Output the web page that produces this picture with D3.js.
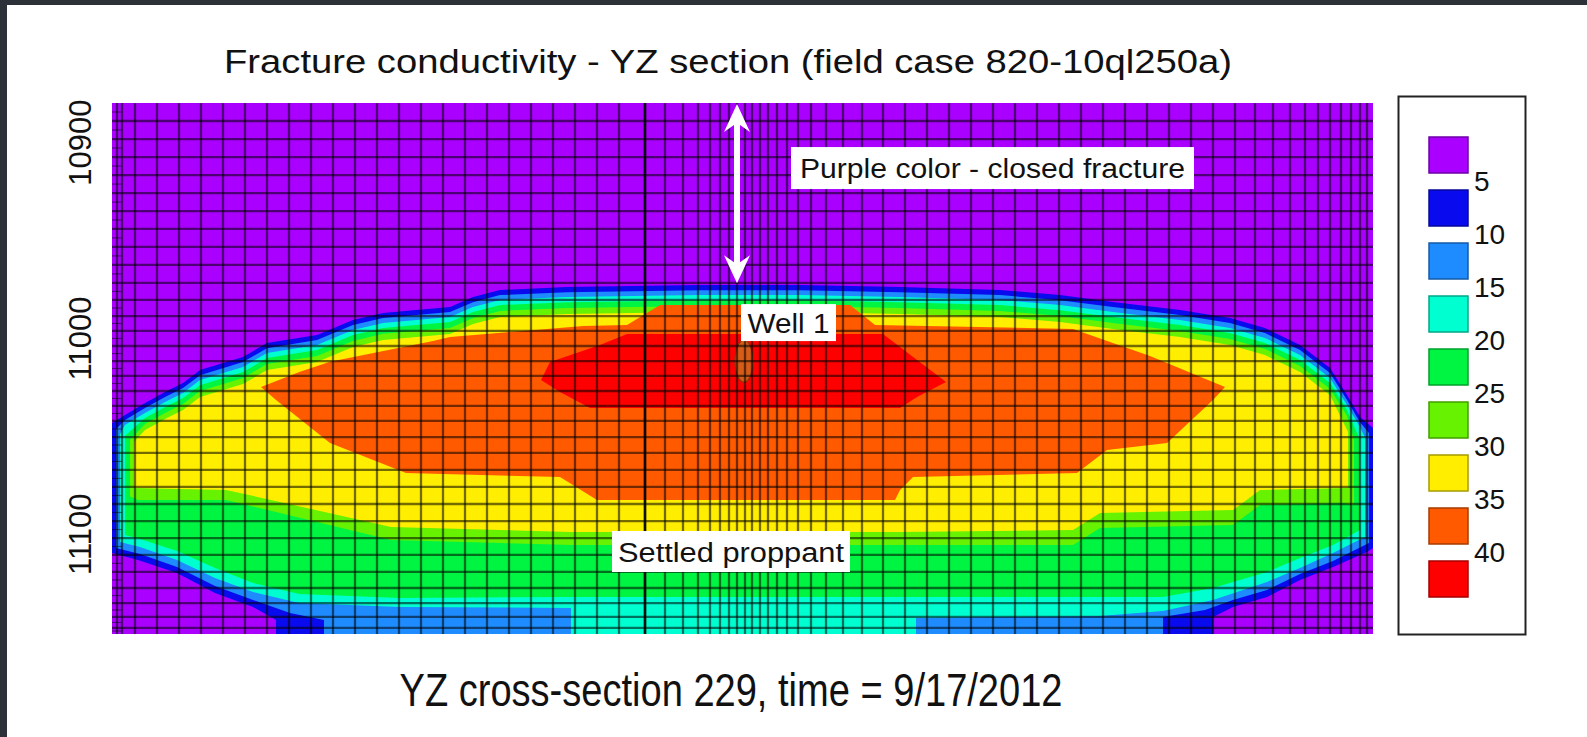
<!DOCTYPE html>
<html>
<head>
<meta charset="utf-8">
<script src="https://cdn.jsdelivr.net/npm/d3@7/dist/d3.min.js"></script>
<style>
  body { margin: 0; background: #fff; }
  svg { display: block; }
  text { font-family: "Liberation Sans", Arial, sans-serif; fill: #111; }
</style>
</head>
<body>
<svg id="chart" width="1587" height="737"></svg>
<script>
// conductivity class limits and colours, low to high
var levels = [5, 10, 15, 20, 25, 30, 35, 40];
var classColors = ["#aa00ff", "#0a0aee", "#1e8cff", "#00ffd0", "#00f542", "#66f200", "#ffee00", "#ff5a00", "#ff0000"];
var depthTicks = [10900, 11000, 11100];

// contour outlines [lateral ft, depth ft]: area where conductivity >= level
var contour5 = [[0,11043.4],[13,11039.3],[33,11033.2],[53,11027.6],[71,11023.0],[88,11016.4],[131,11009.7],[155,11002.6],[205,10998.5],[241,10990.8],[271,10987.2],[338,10984.2],[361,10979.1],[388,10975.5],[455,10974.0],[588,10973.0],[688,10973.0],[788,10974.0],[888,10975.5],[948,10978.1],[1001,10981.6],[1068,10985.7],[1118,10989.8],[1153,10994.9],[1188,11003.6],[1218,11015.3],[1235,11029.1],[1248,11040.4],[1261,11046.0],
  [1261,11107.3],[1255,11109.3],[1221,11117.0],[1188,11123.6],[1155,11132.3],[1121,11137.4],[1101,11142.5],[1101,11151.2],[164,11151.2],[164,11144.0],[141,11137.4],[103,11130.3],[65,11120.0],[26,11113.4],[0,11109.8]];
var contour10 = [[4,11046.5],[13,11041.9],[33,11035.8],[53,11030.2],[71,11025.6],[88,11019.0],[131,11012.3],[155,11005.2],[205,11001.1],[241,10993.4],[271,10989.8],[338,10986.8],[361,10981.7],[388,10978.1],[455,10976.6],[588,10975.6],[688,10975.6],[788,10976.6],[888,10978.1],[948,10980.7],[1001,10984.2],[1068,10988.3],[1118,10992.4],[1153,10997.5],[1188,11006.2],[1218,11017.9],[1235,11031.7],[1248,11043.0],[1257,11048.5],
  [1257,11104.7],[1221,11113.9],[1188,11120.5],[1155,11128.7],[1121,11133.8],[1093,11138.9],[1051,11142.5],[1051,11151.2],[212,11151.2],[212,11144.0],[178,11140.5],[141,11133.8],[103,11126.7],[65,11117.0],[28,11110.3],[4,11107.3]];
var contour15 = [[8,11049.0],[13,11044.4],[33,11038.3],[53,11032.7],[71,11028.1],[88,11021.5],[131,11014.8],[155,11007.7],[205,11003.6],[241,10995.9],[271,10992.3],[338,10989.3],[361,10984.2],[388,10980.6],[455,10979.1],[588,10978.1],[688,10978.1],[788,10979.1],[888,10980.6],[948,10983.2],[1001,10986.7],[1068,10990.8],[1118,10994.9],[1153,11000.0],[1188,11008.7],[1218,11020.4],[1235,11034.2],[1248,11045.5],[1253,11051.0],
  [1253,11101.6],[1221,11109.8],[1188,11117.5],[1155,11124.6],[1101,11133.8],[1051,11139.4],[988,11142.0],[804,11143.0],[804,11151.2],[459,11151.2],[459,11137.9],[288,11137.4],[187,11135.4],[141,11129.7],[103,11122.6],[65,11113.4],[28,11106.8],[8,11104.2]];
var contour20 = [[13,11050.0],[33,11040.9],[53,11035.3],[71,11030.7],[88,11024.1],[131,11017.4],[155,11010.3],[205,11006.2],[241,10998.5],[271,10994.9],[338,10991.9],[361,10986.8],[388,10983.2],[455,10981.7],[588,10980.7],[688,10980.7],[788,10981.7],[888,10983.2],[948,10985.8],[1001,10989.3],[1068,10993.4],[1118,10997.5],[1153,11002.6],[1188,11011.3],[1218,11023.0],[1235,11036.8],[1248,11052.0],
  [1248,11098.1],[1221,11105.7],[1188,11112.4],[1155,11119.5],[1101,11127.7],[1051,11132.3],[459,11132.3],[288,11132.8],[187,11130.8],[141,11125.1],[103,11117.5],[65,11108.8],[28,11102.7],[13,11100.6]];
var contour25 = [[18,11052.0],[33,11043.9],[53,11038.3],[71,11033.7],[88,11027.1],[131,11020.4],[155,11013.3],[205,11009.2],[241,11001.5],[271,10997.9],[338,10994.9],[361,10989.8],[388,10986.2],[455,10984.7],[588,10983.7],[688,10983.7],[788,10984.7],[888,10986.2],[948,10988.8],[1001,10992.3],[1068,10996.4],[1118,11000.5],[1153,11005.6],[1188,11014.3],[1218,11026.0],[1235,11039.8],[1242,11052.0],
  [1242,11085.3],[1231,11084.3],[1148,11085.3],[1121,11095.5],[988,11097.0],[961,11105.7],[788,11105.7],[459,11105.7],[279,11103.2],[114,11082.7],[26,11082.7],[18,11081.0]];
var contour30 = [[22,11053.0],[33,11047.0],[53,11041.4],[71,11036.8],[88,11030.2],[131,11023.5],[155,11016.4],[205,11012.3],[241,11004.6],[271,11001.0],[338,10998.0],[361,10992.9],[388,10989.3],[455,10987.8],[588,10986.8],[688,10986.8],[788,10987.8],[888,10989.3],[948,10991.9],[1001,10995.4],[1068,10999.5],[1118,11003.6],[1153,11008.7],[1188,11017.4],[1218,11029.1],[1236,11048.0],
  [1236,11076.6],[1148,11077.6],[1121,11087.9],[988,11089.4],[961,11098.1],[788,11099.1],[459,11099.1],[279,11096.5],[114,11077.6],[22,11076.6]];
var contour35 = [[149,11025.0],[188,11017.3],[218,11012.2],[321,11001.5],[338,10999.5],[471,10993.9],[515,10993.4],[548,10983.2],[738,10983.2],[763,10993.4],[961,10995.4],[1038,11009.2],[1113,11025.0],[1101,11031.7],[1055,11053.6],[995,11057.2],[965,11069.0],[801,11071.0],[788,11077.6],[783,11082.7],[485,11082.7],[448,11071.0],[294,11069.0],[218,11053.6],[164,11031.7]];
var contour40 = [[429,11021.5],[438,11012.3],[488,11003.6],[515,10998.0],[771,10998.0],[805,11011.3],[834,11022.5],[805,11030.1],[788,11035.8],[478,11035.8],[448,11027.6]];

var wellPos = [632, 11011.8];

// simulation mesh (lateral ft / depth ft)
var meshCols = [5,10,23,45,67,89,111,133,155,177,199,221,243,265,287,309,331,353,375,397,419,441,463,485,507,533,553,571,586,598,608,617,625,633,640,648,656,665,675,686,699,714,731,750,771,793,815,837,859,881,903,925,947,969,991,1013,1035,1057,1079,1101,1123,1143,1161,1178,1193,1206,1218,1229,1239,1248,1255];
var meshRows = [10889.2,10898.4,10907.6,10916.8,10926.0,10935.2,10944.3,10953.5,10962.7,10971.9,10980.6,10988.8,10996.4,11004.1,11011.8,11019.4,11027.1,11034.7,11042.4,11050.6,11058.7,11067.4,11076.1,11084.8,11093.5,11102.2,11110.8,11119.5,11127.7,11135.4,11142.5,11148.1];
var heavyCol = 533;

(function () {
    var W = 1587, H = 737;
    var plot = {left: 112, right: 1373, top: 103, bottom: 634};

    var x = d3.scaleLinear().domain([0, 1261]).range([plot.left, plot.right]);
    var y = d3.scaleLinear().domain([10880, 11151.2]).range([plot.top, plot.bottom]);
    var color = d3.scaleThreshold().domain(levels).range(classColors);

    var svg = d3.select("#chart");

    svg.append("rect").attr("width", W).attr("height", H).attr("fill", "#fff");
    svg.append("rect").attr("width", W).attr("height", 5).attr("fill", "#2c3238");
    svg.append("rect").attr("width", 7).attr("height", H).attr("fill", "#2c3238");

    svg.append("defs").append("clipPath").attr("id", "plotclip")
        .append("rect")
        .attr("x", plot.left).attr("y", plot.top)
        .attr("width", plot.right - plot.left).attr("height", plot.bottom - plot.top);

    var g = svg.append("g").attr("clip-path", "url(#plotclip)");

    // closed fracture background
    g.append("rect")
        .attr("x", plot.left).attr("y", plot.top)
        .attr("width", plot.right - plot.left).attr("height", plot.bottom - plot.top)
        .attr("fill", color(0));

    var contours = [contour5, contour10, contour15, contour20, contour25, contour30, contour35, contour40];
    var line = d3.line().x(function (d) { return x(d[0]); }).y(function (d) { return y(d[1]); });

    g.selectAll("path.band")
        .data(contours)
        .enter().append("path")
        .attr("class", "band")
        .attr("d", function (d) { return line(d) + "Z"; })
        .attr("fill", function (d, i) { return color(levels[i]); });

    g.append("ellipse")
        .attr("cx", x(wellPos[0])).attr("cy", y(wellPos[1]))
        .attr("rx", 9).attr("ry", 21)
        .attr("fill", "#d65c18").attr("stroke", "#8a3a0a").attr("stroke-width", 1.2);

    // mesh
    var mesh = g.append("g")
        .attr("stroke", "#000").attr("stroke-opacity", 0.55).attr("stroke-width", 2.3);

    mesh.selectAll(".mcol")
        .data(meshCols)
        .enter().append("line")
        .attr("x1", function (d) { return x(d); }).attr("x2", function (d) { return x(d); })
        .attr("y1", plot.top).attr("y2", plot.bottom);

    mesh.selectAll(".mrow")
        .data(meshRows)
        .enter().append("line")
        .attr("x1", plot.left).attr("x2", plot.right)
        .attr("y1", function (d) { return y(d); }).attr("y2", function (d) { return y(d); });

    // finer rows in the first mesh column
    var edgeRows = d3.pairs([10880].concat(meshRows, [11151.2])).map(function (p) { return (p[0] + p[1]) / 2; });
    g.selectAll(".erow")
        .data(edgeRows)
        .enter().append("line")
        .attr("x1", plot.left).attr("x2", x(10))
        .attr("y1", function (d) { return y(d); }).attr("y2", function (d) { return y(d); })
        .attr("stroke", "#000").attr("stroke-opacity", 0.45).attr("stroke-width", 1.2);

    g.append("line")
        .attr("x1", x(heavyCol)).attr("x2", x(heavyCol))
        .attr("y1", plot.top).attr("y2", plot.bottom)
        .attr("stroke", "#000").attr("stroke-opacity", 0.85).attr("stroke-width", 2.6);

    // double arrow
    var ax = x(625), at = y(10880.5), ab = y(10972);
    svg.append("path")
        .attr("d", "M" + ax + "," + at +
            "L" + (ax + 13) + "," + (at + 28) + "L" + (ax + 3) + "," + (at + 21) +
            "L" + (ax + 3) + "," + (ab - 21) + "L" + (ax + 13) + "," + (ab - 28) +
            "L" + ax + "," + ab +
            "L" + (ax - 13) + "," + (ab - 28) + "L" + (ax - 3) + "," + (ab - 21) +
            "L" + (ax - 3) + "," + (at + 21) + "L" + (ax - 13) + "," + (at + 28) + "Z")
        .attr("fill", "#fff");

    // labels inside plot
    var notes = [
        {text: "Purple color - closed fracture", lat: 679, depth: 10902.5, w: 403, h: 42, len: 385},
        {text: "Well 1", lat: 629, depth: 10982.7, w: 95, h: 37, len: 82},
        {text: "Settled proppant", lat: 500, depth: 11098.6, w: 238, h: 41, len: 226}
    ];
    var ng = svg.selectAll(".note").data(notes).enter().append("g")
        .attr("transform", function (d) { return "translate(" + x(d.lat) + "," + y(d.depth) + ")"; });
    ng.append("rect")
        .attr("width", function (d) { return d.w; }).attr("height", function (d) { return d.h; })
        .attr("fill", "#fff");
    ng.append("text")
        .attr("x", function (d) { return d.w / 2; })
        .attr("y", function (d) { return d.h / 2 + 10; })
        .attr("text-anchor", "middle")
        .attr("font-size", 27)
        .attr("textLength", function (d) { return d.len; })
        .attr("lengthAdjust", "spacingAndGlyphs")
        .text(function (d) { return d.text; });

    // depth axis
    var yAxis = d3.axisLeft(y).tickValues(depthTicks).tickSize(0).tickFormat(d3.format("d"));
    var ga = svg.append("g").attr("transform", "translate(91,0)").call(yAxis);
    ga.select(".domain").remove();
    ga.attr("font-size", 31);
    ga.selectAll("text")
        .attr("x", 0).attr("dy", 0)
        .attr("transform", "rotate(-90)")
        .attr("text-anchor", "middle")
        .attr("fill", "#111");

    // legend
    svg.append("rect")
        .attr("x", 1398.5).attr("y", 96.5).attr("width", 127).attr("height", 538)
        .attr("fill", "#fff").attr("stroke", "#222").attr("stroke-width", 2);

    var legY = d3.scaleBand().domain(d3.range(classColors.length)).range([137, 597]).paddingInner(17 / 53);
    svg.selectAll(".swatch")
        .data(classColors)
        .enter().append("rect")
        .attr("x", 1429).attr("y", function (d, i) { return legY(i); })
        .attr("width", 39).attr("height", legY.bandwidth())
        .attr("fill", function (d) { return d; })
        .attr("stroke", function (d) { return d3.color(d).darker(1.2); })
        .attr("stroke-width", 1.5);

    svg.selectAll(".leglabel")
        .data(levels)
        .enter().append("text")
        .attr("x", 1474)
        .attr("y", function (d, i) { return legY(i) + legY.bandwidth() + 18; })
        .attr("font-size", 28)
        .text(function (d) { return d; });

    // titles
    svg.append("text")
        .attr("x", 728).attr("y", 73)
        .attr("text-anchor", "middle")
        .attr("font-size", 34)
        .attr("textLength", 1008).attr("lengthAdjust", "spacingAndGlyphs")
        .text("Fracture conductivity - YZ section (field case 820-10ql250a)");

    svg.append("text")
        .attr("x", 731).attr("y", 706)
        .attr("text-anchor", "middle")
        .attr("font-size", 47)
        .attr("textLength", 663).attr("lengthAdjust", "spacingAndGlyphs")
        .text("YZ cross-section 229, time = 9/17/2012");
})();
</script>
</body>
</html>
